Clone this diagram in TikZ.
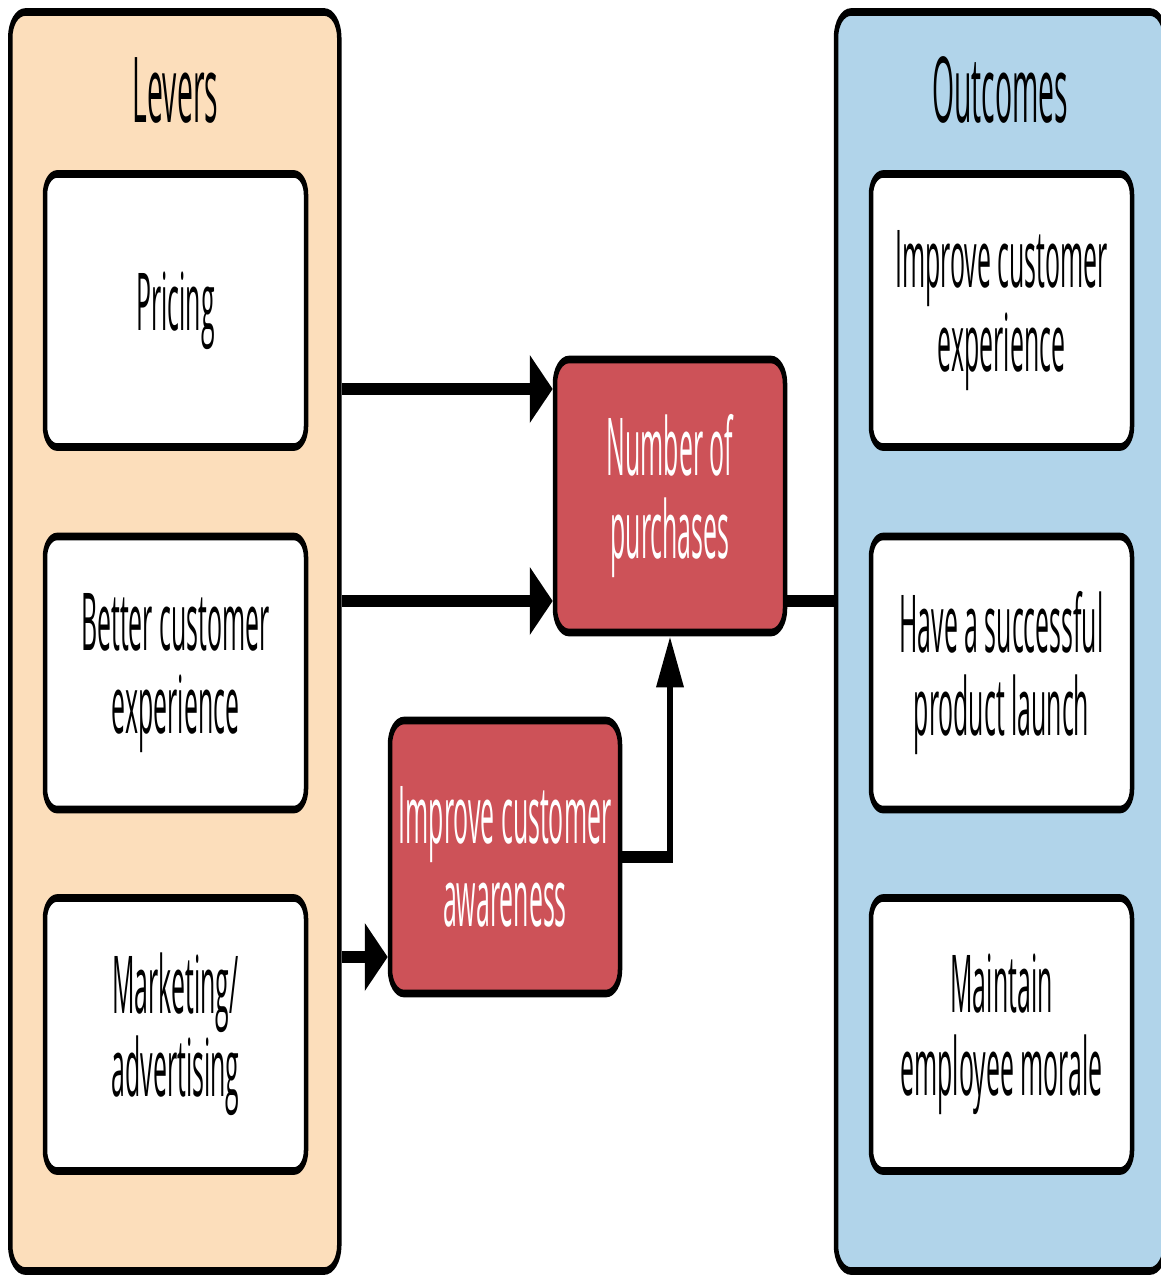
\documentclass[tikz,border=0pt]{standalone}
\usepackage{fontspec}
\setmainfont{Open Sans}[FakeStretch=0.53]
\usetikzlibrary{arrows.meta}
\definecolor{leverfill}{RGB}{252,222,187}
\definecolor{outcomefill}{RGB}{177,212,234}
\definecolor{metricfill}{RGB}{205,82,88}
\begin{document}
\begin{tikzpicture}[x=1pt, y=-1pt]
\useasboundingbox (0,0) rectangle (1161,1275);
% everything is drawn in a vertically stretched canvas (factor 1.7);
% the y unit is divided by the same factor so coordinates stay in final units
\begin{scope}[transform canvas={yscale=1.7}, y={(0pt,-0.588235pt)},
  panel/.style={draw=black, line width=4.5pt, rounded corners=15pt,
    minimum width=329pt, minimum height=1259pt/1.7, inner sep=0pt},
  title/.style={font=\fontsize{53.5}{55}\selectfont, anchor=base, inner sep=0pt},
  box/.style={draw=black, line width=4.5pt, fill=white, rounded corners=12pt,
    minimum width=261pt, minimum height=273pt/1.7, inner sep=0pt,
    align=center, font=\fontsize{47}{49}\selectfont},
  metric/.style={box, fill=metricfill, text=white, minimum width=230pt,
    rounded corners=14pt},
  link/.style={line width=6.5pt},
  hhead/.style={-{Triangle[length=23pt, width=38.5pt]}},
  vhead/.style={-{Triangle[length=30pt, width=26pt]}}
]
  % group panels
  \node[panel, fill=leverfill]   (lev) at (174.75,641.5) {};
  \node[panel, fill=outcomefill] (out) at (1000.5,641.5) {};
  \node[title] (levt) at (175.5,122) {Levers};
  \node[title] (outt) at (1000,122) {Outcomes};

  % levers
  \node[box] (pr) at (175.5,310.5)  {Pricing};
  \node[box] (bc) at (175.5,673)    {Better customer\\experience};
  \node[box] (ma) at (175.5,1034.5) {Marketing/\\advertising};

  % outcomes
  \node[box] (ic) at (1001.5,310.5)  {Improve customer\\experience};
  \node[box] (sl) at (1001.5,673)    {Have a successful\\product launch};
  \node[box] (em) at (1001.5,1034.5) {Maintain\\employee morale};

  % metrics
  \node[metric] (nop) at (670,496) {Number of\\purchases};
  \node[metric] (aw)  at (505,857) {Improve customer\\awareness};

  % connector heights
  \coordinate (ya) at (0,389);
  \coordinate (yb) at (0,601);
  \coordinate (yc) at (0,957);

  \draw[link, hhead] (lev.east |- ya) -- (nop.west |- ya);
  \draw[link, hhead] (lev.east |- yb) -- (nop.west |- yb);
  \draw[link, hhead] (lev.east |- yc) -- (aw.west |- yc);
  \draw[link, vhead] (aw.east) -| (nop.south);
  \draw[link] (nop.east |- yb) -- (out.west |- yb);
\end{scope}
\end{tikzpicture}
\end{document}
